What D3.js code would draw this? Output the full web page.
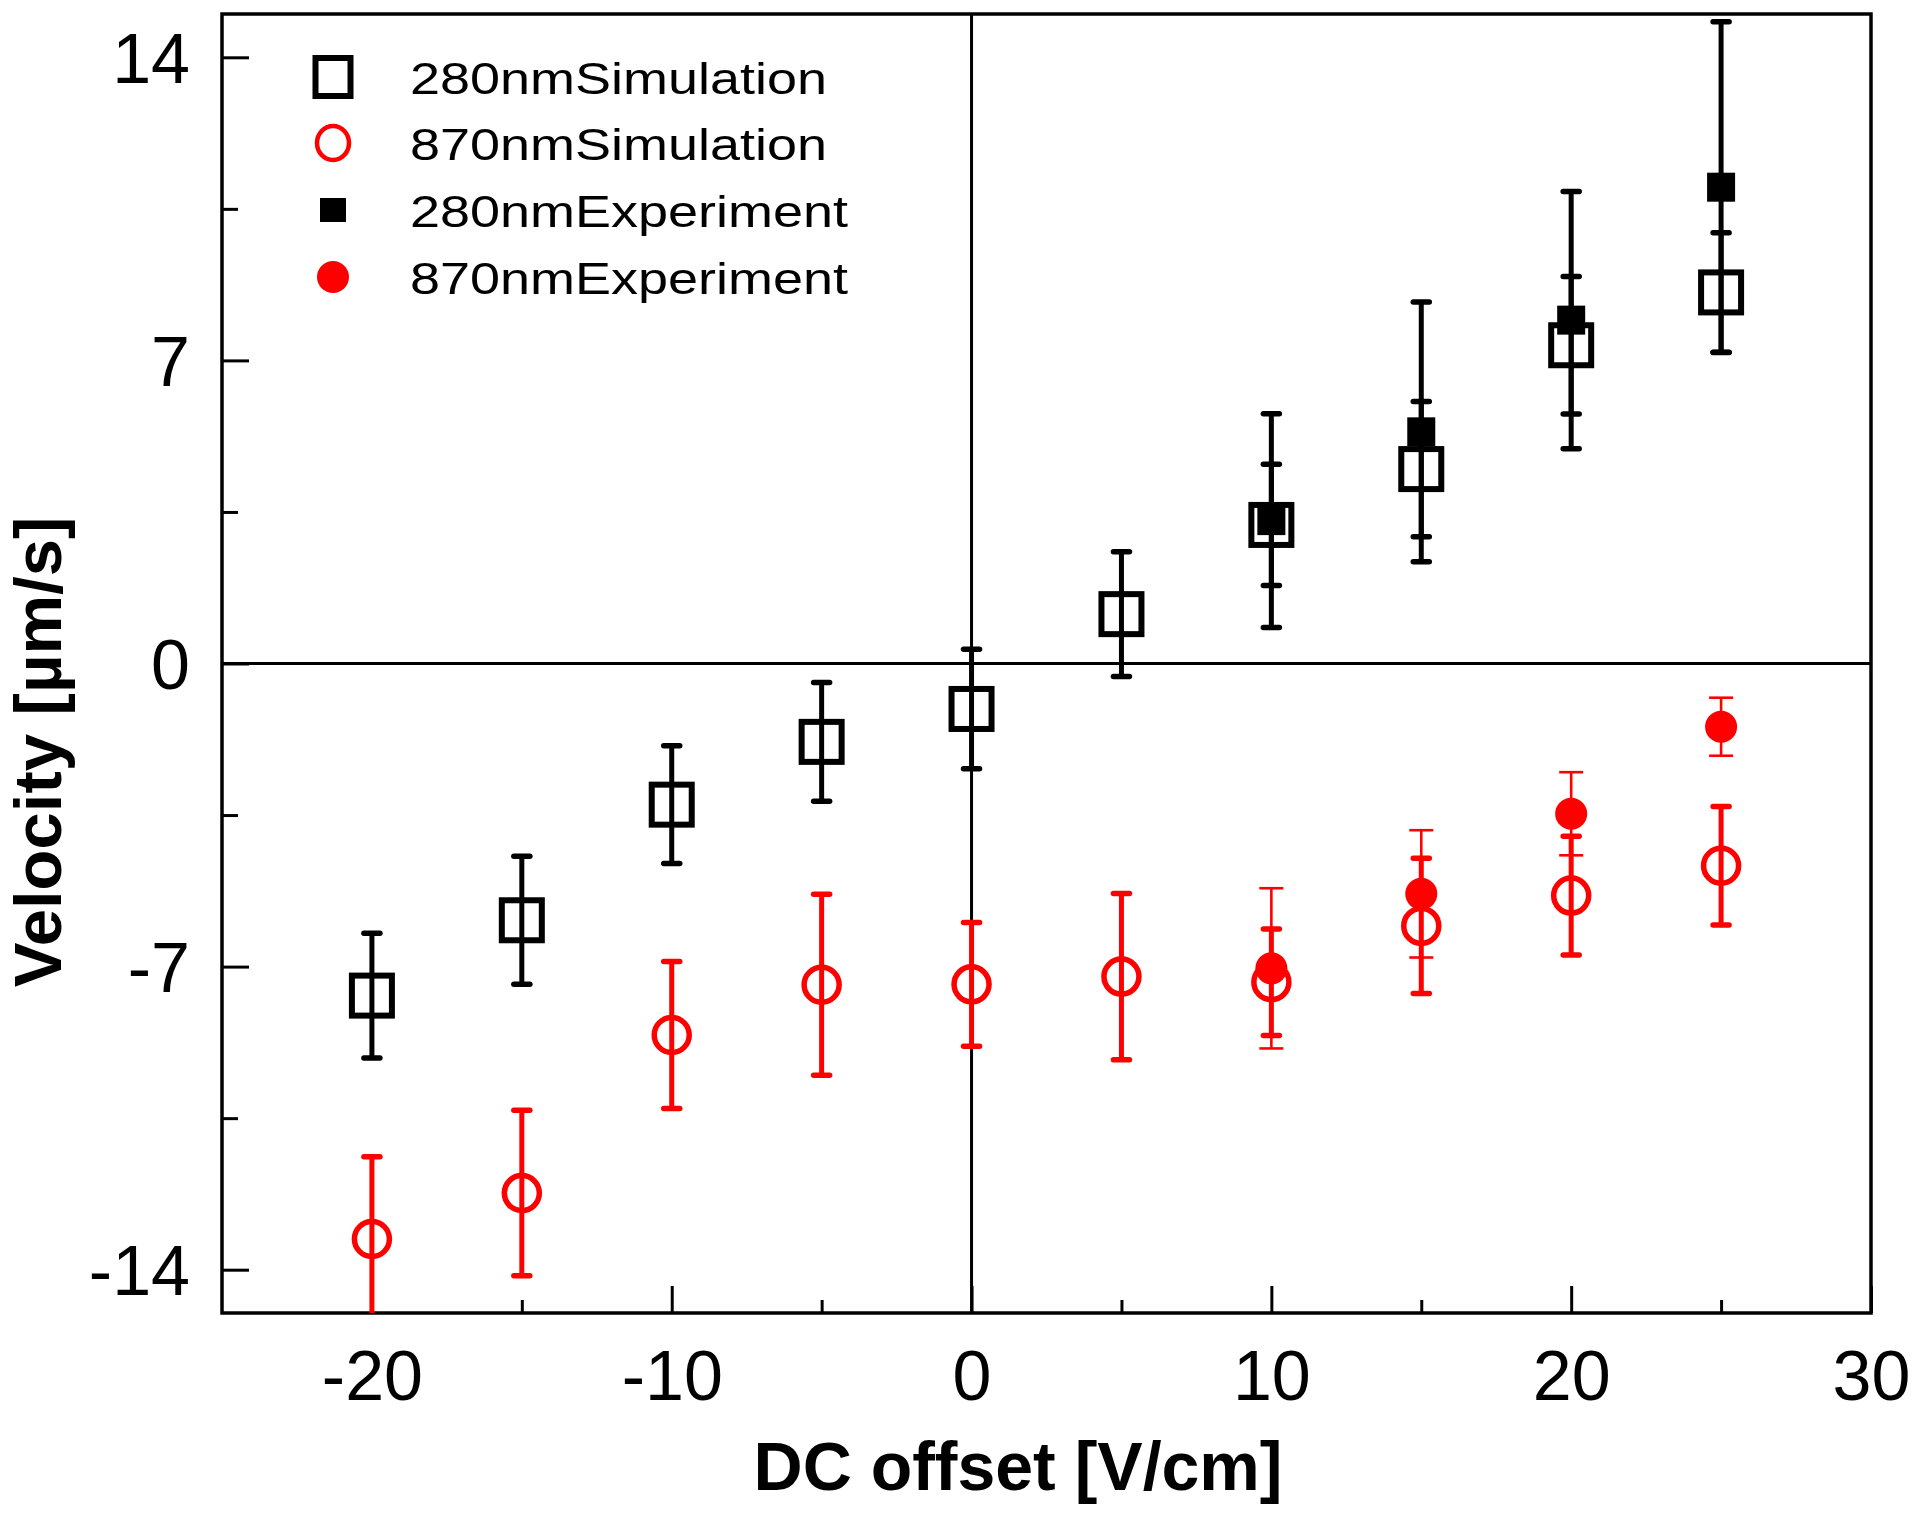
<!DOCTYPE html>
<html><head><meta charset="utf-8">
<script src="https://cdn.jsdelivr.net/npm/d3@7"></script>
<style>body{margin:0;background:#fff} svg{display:block}</style>
</head><body>
<svg id="chart" width="1920" height="1515"></svg>
<script>
// ---- data ----
const simX = [-20, -15, -10, -5, 0, 5, 10, 15, 20, 25];
const sim280 = [-7.67, -5.93, -3.26, -1.81, -1.05, 1.14, 3.20, 4.49, 7.35, 8.57];
const sim280Err = [1.44, 1.48, 1.36, 1.37, 1.38, 1.44, 1.40, 1.56, 1.59, 1.38];
const sim870 = [-13.29, -12.23, -8.58, -7.42, -7.41, -7.23, -7.36, -6.06, -5.36, -4.67];
const sim870Err = [1.90, 1.91, 1.70, 2.09, 1.43, 1.92, 1.23, 1.56, 1.37, 1.37];
const expX = [10, 15, 20, 25];
const exp280 = [3.30, 5.35, 7.93, 11.00];
const exp280Err = [2.47, 3.00, 2.97, 3.82];
const exp870 = [-7.04, -5.32, -3.47, -1.46];
const exp870Err = [1.85, 1.47, 0.96, 0.67];
const xMajor = [-20, -10, 0, 10, 20, 30];
const xMinor = [-15, -5, 5, 15, 25];
const yMajor = [-14, -7, 0, 7, 14];
const yMinor = [-10.5, -3.5, 3.5, 10.5];
const legendLabels = ["280nmSimulation", "870nmSimulation", "280nmExperiment", "870nmExperiment"];
const xTitle = "DC offset [V/cm]";
const yTitle = "Velocity [\u00b5m/s]";

// ---- layout ----
const FONT = "'Liberation Sans', Arial, sans-serif";
const svg = d3.select("#chart");
const x = d3.scaleLinear().domain([-25, 30]).range([222, 1871]);
const y = d3.scaleLinear().domain([-15, 15]).range([1313, 14]);
const RED = "#ff0000";

svg.append("defs").append("clipPath").attr("id", "plotclip")
  .append("rect").attr("x", x(-25)).attr("y", y(15))
  .attr("width", x(30) - x(-25)).attr("height", y(-15) - y(15));

// zero lines
svg.append("line").attr("x1", x(-25)).attr("x2", x(30)).attr("y1", y(0)).attr("y2", y(0))
  .attr("stroke", "#000").attr("stroke-width", 3);
svg.append("line").attr("x1", x(0)).attr("x2", x(0)).attr("y1", y(15)).attr("y2", y(-15))
  .attr("stroke", "#000").attr("stroke-width", 3);

// axes
function styleAxis(g) {
  g.select(".domain").remove();
  g.selectAll(".tick line").attr("stroke", "#000").attr("stroke-width", 3);
  g.selectAll("text").attr("fill", "#000").style("font-family", FONT).style("font-size", "70px");
}
const gxMaj = svg.append("g").attr("transform", `translate(0,${y(-15)})`)
  .call(d3.axisBottom(x).tickValues(xMajor).tickSize(-27).tickFormat(d => String(d)));
styleAxis(gxMaj);
gxMaj.selectAll("text").attr("y", 87).attr("dy", "0em");
const gxMin = svg.append("g").attr("transform", `translate(0,${y(-15)})`)
  .call(d3.axisBottom(x).tickValues(xMinor).tickSize(-13).tickFormat(""));
styleAxis(gxMin);

const gyMaj = svg.append("g").attr("transform", `translate(${x(-25)},0)`)
  .call(d3.axisLeft(y).tickValues(yMajor).tickSize(-27).tickFormat(d => String(d)));
styleAxis(gyMaj);
gyMaj.selectAll("text").attr("x", -32).attr("dy", "0.36em");
const gyMin = svg.append("g").attr("transform", `translate(${x(-25)},0)`)
  .call(d3.axisLeft(y).tickValues(yMinor).tickSize(-16).tickFormat(""));
styleAxis(gyMin);

// frame
svg.append("rect").attr("x", x(-25)).attr("y", y(15))
  .attr("width", x(30) - x(-25)).attr("height", y(-15) - y(15))
  .attr("fill", "none").attr("stroke", "#000").attr("stroke-width", 3.5);

// error bars
const plot = svg.append("g").attr("clip-path", "url(#plotclip)");
function errBars(xs, ys, es, color, lw, capW, capLW, linecap) {
  const g = plot.append("g");
  const idx = d3.range(xs.length);
  g.selectAll("line.v").data(idx).join("line").attr("class", "v")
    .attr("x1", i => x(xs[i])).attr("x2", i => x(xs[i]))
    .attr("y1", i => y(ys[i] + es[i])).attr("y2", i => y(ys[i] - es[i]))
    .attr("stroke", color).attr("stroke-width", lw);
  [1, -1].forEach(s => {
    g.selectAll("line.c" + (s > 0 ? "t" : "b")).data(idx).join("line").attr("class", "c" + (s > 0 ? "t" : "b"))
      .attr("x1", i => x(xs[i]) - capW / 2).attr("x2", i => x(xs[i]) + capW / 2)
      .attr("y1", i => y(ys[i] + s * es[i])).attr("y2", i => y(ys[i] + s * es[i]))
      .attr("stroke", color).attr("stroke-width", capLW).attr("stroke-linecap", linecap);
  });
}
errBars(simX, sim280, sim280Err, "#000", 5, 16, 5.5, "round");
errBars(simX, sim870, sim870Err, RED, 5, 16, 5.5, "round");

// sim markers
plot.append("g").selectAll("rect").data(d3.range(simX.length)).join("rect")
  .attr("x", i => x(simX[i]) - 20).attr("y", i => y(sim280[i]) - 20)
  .attr("width", 40).attr("height", 40)
  .attr("fill", "none").attr("stroke", "#000").attr("stroke-width", 6);
plot.append("g").selectAll("circle").data(d3.range(simX.length)).join("circle")
  .attr("cx", i => x(simX[i])).attr("cy", i => y(sim870[i])).attr("r", 17.5)
  .attr("fill", "none").attr("stroke", RED).attr("stroke-width", 5.5);

errBars(expX, exp280, exp280Err, "#000", 5, 16, 5.5, "round");
errBars(expX, exp870, exp870Err, RED, 2.6, 24, 2.6, "butt");

plot.append("g").selectAll("rect").data(d3.range(expX.length)).join("rect")
  .attr("x", i => x(expX[i]) - 14).attr("y", i => y(exp280[i]) - 14.5)
  .attr("width", 28).attr("height", 29).attr("fill", "#000");
plot.append("g").selectAll("circle").data(d3.range(expX.length)).join("circle")
  .attr("cx", i => x(expX[i])).attr("cy", i => y(exp870[i])).attr("r", 16)
  .attr("fill", RED);

// legend
const legY = [77, 143, 210, 277];
const legW = [417, 417, 438, 438];
const leg = svg.append("g");
legendLabels.forEach((lab, i) => {
  const cy = legY[i], cx = 333;
  if (i === 0) leg.append("rect").attr("x", cx - 17.5).attr("y", cy - 19).attr("width", 35).attr("height", 38)
    .attr("fill", "none").attr("stroke", "#000").attr("stroke-width", 6);
  if (i === 1) leg.append("ellipse").attr("cx", cx).attr("cy", cy).attr("rx", 16).attr("ry", 17)
    .attr("fill", "none").attr("stroke", RED).attr("stroke-width", 4.5);
  if (i === 2) leg.append("rect").attr("x", cx - 13).attr("y", cy - 12).attr("width", 26).attr("height", 24).attr("fill", "#000");
  if (i === 3) leg.append("circle").attr("cx", cx).attr("cy", cy).attr("r", 16).attr("fill", RED);
  leg.append("text").attr("x", 410).attr("y", cy + 17)
    .attr("textLength", legW[i]).attr("lengthAdjust", "spacingAndGlyphs")
    .style("font-family", FONT).style("font-size", "44px").attr("fill", "#000").text(lab);
});

// axis titles
svg.append("text").attr("x", 1018).attr("y", 1490).attr("text-anchor", "middle")
  .style("font-family", FONT).style("font-size", "68px").style("font-weight", "bold").text(xTitle);
svg.append("text").attr("transform", "translate(61,752) rotate(-90)").attr("text-anchor", "middle")
  .style("font-family", FONT).style("font-size", "67px").style("font-weight", "bold").text(yTitle);
</script>
</body></html>
